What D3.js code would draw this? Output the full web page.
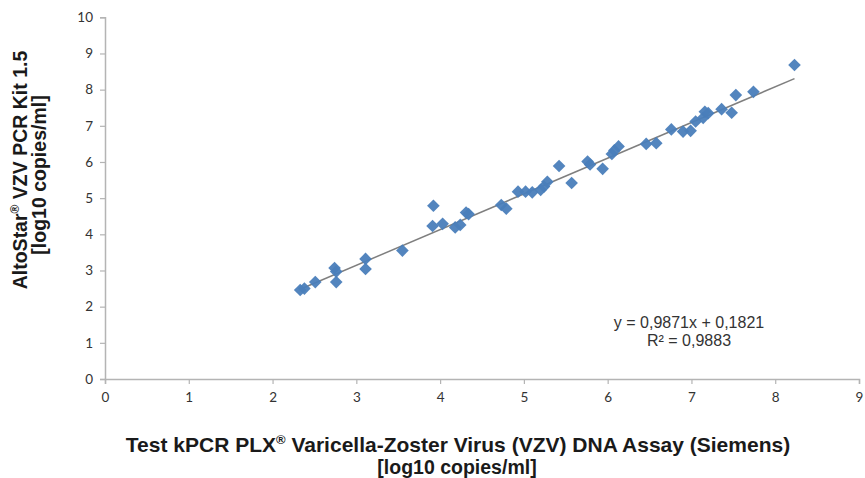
<!DOCTYPE html>
<html lang="en">
<head>
<meta charset="UTF-8">
<title>VZV assay comparison</title>
<script src="https://d3js.org/d3.v7.min.js"></script>
<style>
  body { margin: 0; background: #fff; }
  svg { display: block; }
</style>
</head>
<body>
<svg class="chart"></svg>
<script>
// reference assay (x) vs AltoStar (y), log10 copies/ml
const siemensLog = [2.33, 2.38, 2.51, 2.74, 2.76, 2.76, 3.11, 3.11, 3.55, 3.92, 3.91, 4.03, 4.18, 4.24, 4.31, 4.34,
  4.73, 4.79, 4.93, 5.02, 5.10, 5.20, 5.24, 5.28, 5.42, 5.57, 5.76, 5.79, 5.94, 6.05, 6.08, 6.13,
  6.46, 6.58, 6.76, 6.90, 6.99, 7.05, 7.14, 7.16, 7.20, 7.36, 7.48, 7.53, 7.74, 8.23]
const altoStarLog = [2.46, 2.50, 2.68, 3.07, 2.97, 2.68, 3.32, 3.04, 3.55, 4.79, 4.23, 4.29, 4.19, 4.26, 4.60, 4.56,
  4.81, 4.71, 5.18, 5.18, 5.16, 5.23, 5.32, 5.45, 5.89, 5.42, 6.01, 5.93, 5.81, 6.22, 6.32, 6.43,
  6.50, 6.52, 6.90, 6.84, 6.86, 7.12, 7.22, 7.39, 7.35, 7.46, 7.36, 7.85, 7.94, 8.68]

const xTicks = [0, 1, 2, 3, 4, 5, 6, 7, 8, 9]
const yTicks = [0, 1, 2, 3, 4, 5, 6, 7, 8, 9, 10]

const slope = 0.9871, intercept = 0.1821
const eqLabel = 'y = 0,9871x + 0,1821'
const r2Label = 'R² = 0,9883'

const W = 865, H = 478
const svg = d3.select('.chart').attr('width', W).attr('height', H)

const x = d3.scaleLinear().domain([0, 9]).range([105, 859])
const y = d3.scaleLinear().domain([0, 10]).range([379, 17.3])

const axisColor = '#b4b4b4'
const tickFont = 'Lato, "Open Sans", sans-serif'

// y axis
const yAxis = svg.append('g')
  .attr('transform', `translate(${x(0)},0)`)
  .call(d3.axisLeft(y).tickValues(yTicks).tickSize(5).tickPadding(7).tickFormat(d3.format('d')))
yAxis.select('.domain').attr('stroke', axisColor).attr('stroke-width', 1.5)
yAxis.selectAll('.tick line').attr('stroke', axisColor).attr('stroke-width', 1.2)
yAxis.selectAll('text').attr('fill', '#333').style('font', `13.5px ${tickFont}`)

// x axis
const xAxis = svg.append('g')
  .attr('transform', `translate(0,${y(0)})`)
  .call(d3.axisBottom(x).tickValues(xTicks).tickSize(5).tickPadding(8).tickFormat(d3.format('d')))
xAxis.select('.domain').attr('stroke', axisColor).attr('stroke-width', 1.5)
xAxis.selectAll('.tick line').attr('stroke', axisColor).attr('stroke-width', 1.2)
xAxis.selectAll('text').attr('fill', '#333').style('font', `13.5px ${tickFont}`)

// trend line
const xs = d3.extent(siemensLog)
svg.append('line')
  .attr('x1', x(xs[0])).attr('y1', y(slope * xs[0] + intercept))
  .attr('x2', x(xs[1])).attr('y2', y(slope * xs[1] + intercept))
  .attr('stroke', '#7f7f7f').attr('stroke-width', 1.5)

// points
const diamond = d3.symbol().type(d3.symbolSquare).size(80)
svg.append('g').selectAll('path')
  .data(siemensLog.map((v, i) => [v, altoStarLog[i]]))
  .join('path')
  .attr('d', diamond)
  .attr('transform', d => `translate(${x(d[0])},${y(d[1])}) rotate(45)`)
  .attr('fill', '#4a7ebb')
  .attr('fill-opacity', 0.95)

// regression equation
const eq = svg.append('text')
  .attr('x', 689).attr('y', 328)
  .attr('text-anchor', 'middle')
  .style('font', '16px "Liberation Sans", Arial, sans-serif')
  .attr('fill', '#333')
eq.append('tspan').attr('x', 689).text(eqLabel)
eq.append('tspan').attr('x', 689).attr('dy', 18).text(r2Label)

// axis titles
const titleFont = 'bold 19.5px "Liberation Sans", Arial, sans-serif'
const xTitle = svg.append('text')
  .attr('text-anchor', 'middle')
  .style('font', 'bold 21px "Liberation Sans", Arial, sans-serif')
  .attr('fill', '#1a1a1a')
xTitle.append('tspan').attr('x', 458).attr('y', 452).text('Test kPCR PLX')
xTitle.append('tspan').attr('dy', -8).style('font-size', '13px').text('®')
xTitle.append('tspan').attr('dy', 8).text(' Varicella-Zoster Virus (VZV) DNA Assay (Siemens)')
svg.append('text')
  .attr('x', 457).attr('y', 474)
  .attr('text-anchor', 'middle')
  .style('font', titleFont)
  .attr('fill', '#1a1a1a')
  .text('[log10 copies/ml]')

const yTitle = svg.append('text')
  .attr('transform', 'translate(27,170) rotate(-90)')
  .attr('text-anchor', 'middle')
  .style('font', titleFont)
  .attr('fill', '#1a1a1a')
yTitle.append('tspan').text('AltoStar')
yTitle.append('tspan').attr('dy', -8).style('font-size', '12px').text('®')
yTitle.append('tspan').attr('dy', 8).text(' VZV PCR Kit 1.5')
svg.append('text')
  .attr('transform', 'translate(46,175) rotate(-90)')
  .attr('text-anchor', 'middle')
  .style('font', titleFont)
  .attr('fill', '#1a1a1a')
  .text('[log10 copies/ml]')
</script>
</body>
</html>
